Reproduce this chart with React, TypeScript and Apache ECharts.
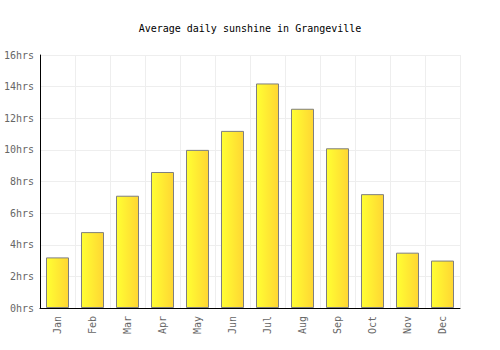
import React, { useEffect, useRef } from "react";
import * as echarts from "echarts";

const months = ["Jan", "Feb", "Mar", "Apr", "May", "Jun", "Jul", "Aug", "Sep", "Oct", "Nov", "Dec"];
const sunshine = [3.2, 4.8, 7.1, 8.6, 10.0, 11.2, 14.2, 12.6, 10.1, 7.2, 3.5, 3.0];
const titleText = "Average daily sunshine in Grangeville";

export default function App() {
  const ref = useRef<HTMLDivElement>(null);
  useEffect(() => {
    const chart = echarts.init(ref.current!, null, { renderer: "svg" });
    const font = "'DejaVu Sans Mono', monospace";
    chart.setOption({
      animation: false,
      title: {
        text: titleText,
        left: "center",
        top: 18,
        textStyle: { fontFamily: font, fontSize: 10, fontWeight: "normal", color: "#000" },
      },
      grid: { left: 40, right: 40, top: 55, bottom: 42, containLabel: false },
      xAxis: {
        type: "category",
        data: months,
        axisLine: { show: true, lineStyle: { color: "#000", width: 1 } },
        axisTick: { show: false },
        axisLabel: { rotate: 90, color: "#666", fontFamily: font, fontSize: 10, margin: 8 },
        splitLine: { show: true, lineStyle: { color: "#eeeeee" } },
        boundaryGap: true,
      },
      yAxis: {
        type: "value",
        min: 0,
        max: 16,
        interval: 2,
        axisLine: { show: true, lineStyle: { color: "#000", width: 1 } },
        axisTick: { show: false },
        axisLabel: { color: "#666", fontFamily: font, fontSize: 10, margin: 6, formatter: "{value}hrs" },
        splitLine: { show: true, lineStyle: { color: "#eeeeee" } },
      },
      series: [
        {
          type: "bar",
          data: sunshine,
          barWidth: 23,
          itemStyle: {
            color: new echarts.graphic.LinearGradient(0, 0, 1, 0, [
              { offset: 0, color: "#ffff33" },
              { offset: 1, color: "#ffd633" },
            ]),
            borderColor: "#7f7f7f",
            borderWidth: 1,
          },
        },
      ],
    });
    return () => chart.dispose();
  }, []);
  return <div ref={ref} style={{ width: 500, height: 350, position: "absolute", left: 0, top: 0 }} />;
}
